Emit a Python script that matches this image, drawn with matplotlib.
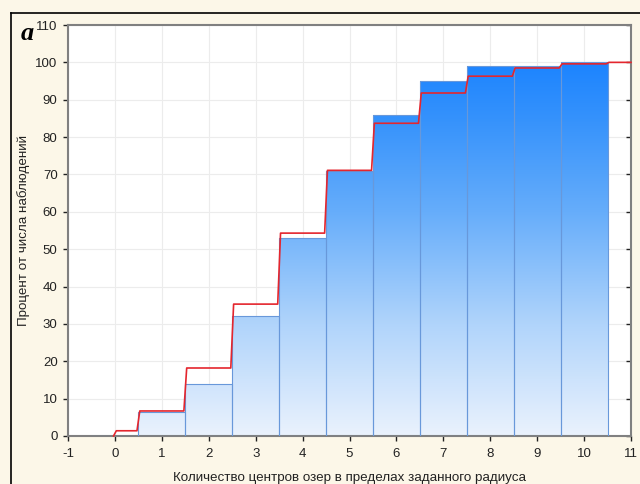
import numpy as np
import matplotlib
matplotlib.use("Agg")
import matplotlib.pyplot as plt
from matplotlib.colors import LinearSegmentedColormap
from matplotlib.path import Path
from matplotlib.patches import PathPatch
from matplotlib.lines import Line2D

plt.rcParams['font.family'] = ['Liberation Sans', 'DejaVu Sans']
plt.rcParams['axes.unicode_minus'] = False

# observed cumulative percent for each number of lake centres
counts = np.arange(0, 11)
observed = [0, 6.5, 14, 32, 53, 71, 86, 95, 99.1, 99.0, 100]

# expected cumulative curve: level on [0,0.5], then on each [k-0.5, k+0.5], last to 11
expected = [1.4, 6.7, 18.2, 35.3, 54.3, 71.1, 83.7, 91.8, 96.3, 98.5, 99.6, 100]

xlabel = 'Количество центров озер в пределах заданного радиуса'
ylabel = 'Процент от числа наблюдений'
xticks = np.arange(-1, 12)
yticks = np.arange(0, 111, 10)

fig = plt.figure(figsize=(6.4, 4.84), dpi=100, facecolor='#fcf7e8')
ax = fig.add_axes([68 / 640, 48 / 484, 563 / 640, 411 / 484])
ax.set_facecolor('white')

# bars outlined, then filled with a vertical gradient clipped to them
bars = ax.bar(counts, observed, width=1.0, facecolor='none',
              edgecolor='#6898da', linewidth=0.8, zorder=3)
paths = [b.get_path().transformed(b.get_patch_transform()) for b in bars if b.get_height() > 0]
clip = PathPatch(Path.make_compound_path(*paths), transform=ax.transData,
                 facecolor='none', edgecolor='none')
ax.add_patch(clip)

cmap = LinearSegmentedColormap.from_list(
    'blues', [(0.0, '#eaf2fd'), (0.3, '#b0d4fb'), (0.6, '#66adfa'),
              (0.85, '#3592fc'), (1.0, '#1c84ff')])
grad = np.linspace(0, 1, 256).reshape(-1, 1)
im = ax.imshow(grad, extent=[-0.5, 10.5, 0, 100], origin='lower',
               aspect='auto', cmap=cmap, zorder=2, interpolation='bicubic')
im.set_clip_path(clip)

# red step curve with slightly slanted risers
edges = [0] + list(np.arange(0.5, 11, 1.0)) + [11]
d = 0.03
xs, ys = [0 - d], [0]
prev = 0
for i, lev in enumerate(expected):
    xs += [edges[i] - d, edges[i] + d]
    ys += [prev, lev]
    prev = lev
xs.append(edges[-1])
ys.append(prev)
ax.plot(xs, ys, color='#e4262e', linewidth=1.2, zorder=4, clip_on=False)

ax.set_xlim(-1, 11)
ax.set_ylim(0, 110)
ax.set_xticks(xticks)
ax.set_yticks(yticks)
ax.grid(True, color='#ececec', linewidth=0.8, zorder=0)
ax.set_axisbelow(True)

for s in ax.spines.values():
    s.set_color('#808080')
    s.set_linewidth(1.5)

ax.tick_params(axis='both', labelsize=9.5, colors='#222222', width=1, length=3.5)
ax.tick_params(axis='y', which='both', direction='out', right=True, pad=4)
ax.tick_params(axis='x', direction='out', pad=5)
# inward ticks along the right spine
for t in ax.yaxis.get_major_ticks():
    t.tick2line.set_marker(matplotlib.markers.TICKLEFT)

ax.set_xlabel(xlabel, fontsize=9.6, color='#222222')
ax.set_ylabel(ylabel, fontsize=9.6, color='#222222')
ax.xaxis.set_label_coords(0.5, -(472 - 436) / 411)
ax.yaxis.set_label_coords(-(68 - 30) / 563, 0.5)

fig.text(21 / 640, 1 - 34 / 484, 'a', fontsize=19, fontweight='bold', fontstyle='italic',
         family='Liberation Serif', va='center', ha='left')

# frame along the top and left edges
fig.add_artist(Line2D([11 / 640, 1], [1 - 13 / 484] * 2, color='black', linewidth=1.2,
                      transform=fig.transFigure))
fig.add_artist(Line2D([11 / 640] * 2, [0, 1 - 13 / 484], color='black', linewidth=1.2,
                      transform=fig.transFigure))

fig.savefig('out.png', dpi=100, facecolor=fig.get_facecolor())
